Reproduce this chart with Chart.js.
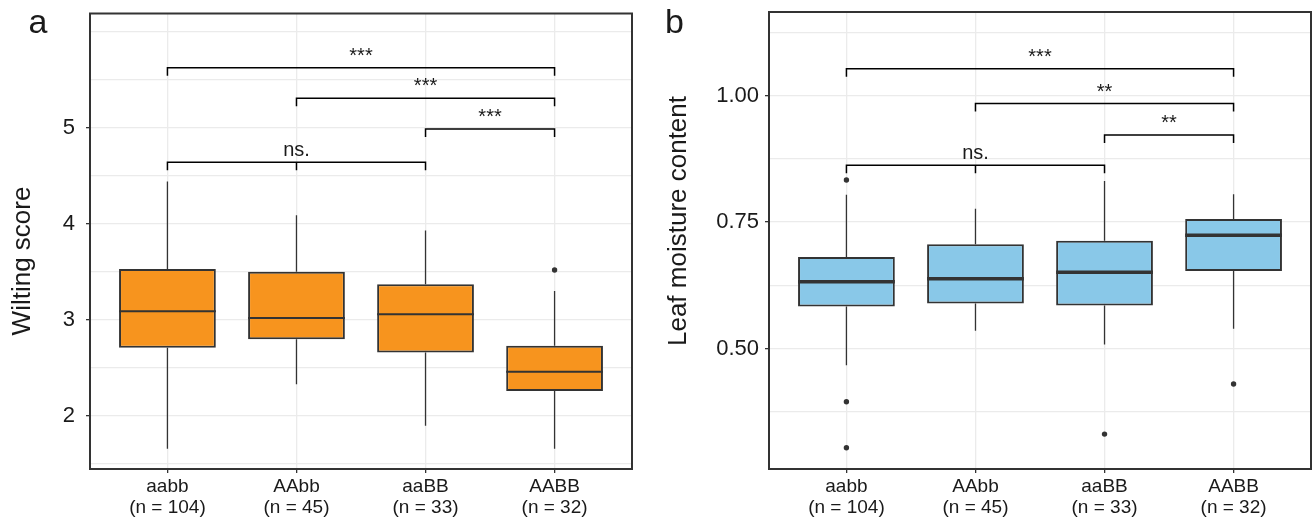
<!DOCTYPE html>
<html>
<head>
<meta charset="utf-8">
<title>Wilting score and leaf moisture content</title>
<script src="https://cdn.jsdelivr.net/npm/chart.js@4.4.0/dist/chart.umd.min.js"></script>
<style>
  body { margin: 0; background: #fff; }
  #wrap { position: relative; width: 1315px; height: 517px; }
  .panel { position: absolute; top: 0; height: 517px; }
</style>
</head>
<body>
<div id="wrap">
  <div class="panel" style="left:0;width:657px"><canvas id="wiltChart"></canvas></div>
  <div class="panel" style="left:657px;width:658px"><canvas id="moistChart"></canvas></div>
</div>
<script>
// categories
var genotypes = ['aabb', 'AAbb', 'aaBB', 'AABB'];
var sampleSizes = ['(n = 104)', '(n = 45)', '(n = 33)', '(n = 32)'];

// panel a: wilting score (box stats)
var wiltMin = [1.66, 2.33, 1.90, 1.66];
var wiltQ1 = [2.71, 2.80, 2.66, 2.26];
var wiltMed = [3.09, 3.02, 3.06, 2.46];
var wiltQ3 = [3.53, 3.50, 3.37, 2.73];
var wiltMax = [4.44, 4.09, 3.93, 3.30];
var wiltOutX = [3];
var wiltOutY = [3.52];
var wiltGrid = [1.5, 2, 2.5, 3, 3.5, 4, 4.5, 5, 5.5, 6];
var wiltLabels = [2, 3, 4, 5];
var wiltBrFrom = [0, 1, 2, 0];
var wiltBrTo = [3, 3, 3, 2];
var wiltBrY = [5.624, 5.306, 4.987, 4.64];
var wiltBrText = ['***', '***', '***', 'ns.'];

// panel b: leaf moisture content
var moistMin = [0.467, 0.535, 0.508, 0.539];
var moistQ1 = [0.583, 0.589, 0.585, 0.653];
var moistMed = [0.632, 0.638, 0.651, 0.724];
var moistQ3 = [0.681, 0.706, 0.713, 0.756];
var moistMax = [0.804, 0.776, 0.831, 0.805];
var moistOutX = [0, 0, 0, 2, 3];
var moistOutY = [0.833, 0.395, 0.304, 0.331, 0.430];
var moistGrid = [0.375, 0.5, 0.625, 0.75, 0.875, 1, 1.125];
var moistLabels = [0.5, 0.75, 1];
var moistBrFrom = [0, 1, 2, 0];
var moistBrTo = [3, 3, 3, 2];
var moistBrY = [1.053, 0.984, 0.922, 0.862];
var moistBrText = ['***', '**', '**', 'ns.'];

var FONT = '"Liberation Sans", Arial, Helvetica, sans-serif';
var INK = '#1a1a1a';
var LINE = '#333333';

// whiskers, medians, brackets, frame, axis title, panel letter
function boxPlugin(s) {
  return {
    id: 'boxExtras',
    beforeDatasetsDraw: function (chart) {
      var ctx = chart.ctx, x = chart.scales.x, y = chart.scales.y;
      ctx.save();
      ctx.strokeStyle = LINE;
      ctx.lineWidth = 1.3;
      for (var i = 0; i < s.min.length; i++) {
        var px = x.getPixelForValue(i);
        ctx.beginPath();
        ctx.moveTo(px, y.getPixelForValue(s.min[i]));
        ctx.lineTo(px, y.getPixelForValue(s.q1[i]));
        ctx.moveTo(px, y.getPixelForValue(s.q3[i]));
        ctx.lineTo(px, y.getPixelForValue(s.max[i]));
        ctx.stroke();
      }
      ctx.restore();
    },
    afterDatasetsDraw: function (chart) {
      var ctx = chart.ctx, x = chart.scales.x, y = chart.scales.y;
      var bars = chart.getDatasetMeta(0).data;
      ctx.save();
      // medians
      ctx.strokeStyle = LINE;
      ctx.lineWidth = s.medWidth;
      for (var i = 0; i < bars.length; i++) {
        var py = y.getPixelForValue(s.med[i]);
        ctx.beginPath();
        ctx.moveTo(bars[i].x - bars[i].width / 2, py);
        ctx.lineTo(bars[i].x + bars[i].width / 2, py);
        ctx.stroke();
      }
      // significance brackets
      ctx.strokeStyle = '#000';
      ctx.lineWidth = 1.5;
      ctx.fillStyle = INK;
      ctx.font = '20px ' + FONT;
      ctx.textAlign = 'center';
      ctx.textBaseline = 'alphabetic';
      for (var j = 0; j < s.brFrom.length; j++) {
        var x1 = x.getPixelForValue(s.brFrom[j]);
        var x2 = x.getPixelForValue(s.brTo[j]);
        var by = y.getPixelForValue(s.brY[j]);
        ctx.beginPath();
        ctx.moveTo(x1, by + 8);
        ctx.lineTo(x1, by);
        ctx.lineTo(x2, by);
        ctx.lineTo(x2, by + 8);
        for (var k = s.brFrom[j] + 1; k < s.brTo[j]; k++) {
          if (s.brText[j] === 'ns.') {
            var xm = x.getPixelForValue(k);
            ctx.moveTo(xm, by);
            ctx.lineTo(xm, by + 8);
          }
        }
        ctx.stroke();
        ctx.fillText(s.brText[j], (x1 + x2) / 2, by - 6);
      }
      // panel border
      var a = chart.chartArea;
      ctx.strokeStyle = LINE;
      ctx.lineWidth = 2;
      ctx.strokeRect(a.left, a.top, a.right - a.left, a.bottom - a.top);
      ctx.restore();
    },
    afterDraw: function (chart) {
      var ctx = chart.ctx;
      ctx.save();
      ctx.fillStyle = INK;
      ctx.font = '34px ' + FONT;
      ctx.textAlign = 'left';
      ctx.textBaseline = 'alphabetic';
      ctx.fillText(s.letter, s.letterX, 33);
      ctx.font = '26px ' + FONT;
      ctx.textAlign = 'center';
      ctx.textBaseline = 'middle';
      ctx.translate(s.titleX, s.titleY);
      ctx.rotate(-Math.PI / 2);
      ctx.fillText(s.title, 0, 0);
      ctx.restore();
    }
  };
}

function makeChart(id, s) {
  var boxes = genotypes.map(function (g, i) { return { x: i, y: [s.q1[i], s.q3[i]] }; });
  var outliers = s.outX.map(function (v, i) { return { x: v, y: s.outY[i] }; });
  return new Chart(document.getElementById(id), {
    type: 'bar',
    data: {
      datasets: [{
        data: boxes,
        backgroundColor: s.fill,
        borderColor: LINE,
        borderWidth: 2,
        borderSkipped: false,
        barPercentage: 0.75,
        categoryPercentage: 1
      }, {
        type: 'scatter',
        data: outliers,
        pointRadius: 2.7,
        pointBackgroundColor: LINE,
        pointBorderWidth: 0
      }]
    },
    plugins: [boxPlugin(s)],
    options: {
      responsive: true,
      maintainAspectRatio: false,
      animation: false,
      devicePixelRatio: 1,
      layout: { padding: { left: 0, right: s.padRight, top: s.padTop, bottom: 0 } },
      plugins: { legend: { display: false }, tooltip: { enabled: false } },
      scales: {
        x: {
          type: 'linear',
          min: -0.6,
          max: 3.6,
          offset: false,
          afterBuildTicks: function (scale) {
            scale.ticks = genotypes.map(function (g, i) { return { value: i }; });
          },
          afterFit: function (scale) {
            scale.height = 48;
            scale.paddingLeft = 0;
            scale.paddingRight = 0;
          },
          border: { display: false },
          grid: { offset: false, color: '#ebebeb', lineWidth: 1.3, tickLength: 4, tickColor: LINE, tickWidth: 1.3 },
          ticks: {
            autoSkip: false,
            maxRotation: 0,
            padding: 3,
            color: INK,
            font: { family: FONT, size: 19, lineHeight: 1.1 },
            callback: function (v) { return [genotypes[v], sampleSizes[v]]; }
          }
        },
        y: {
          min: s.yMin,
          max: s.yMax,
          afterBuildTicks: function (scale) {
            scale.ticks = s.grid.map(function (v) { return { value: v }; });
          },
          afterFit: function (scale) {
            scale.width = s.axisWidth;
            scale.paddingTop = 0;
            scale.paddingBottom = 0;
          },
          border: { display: false },
          grid: {
            color: '#ebebeb',
            lineWidth: 1.3,
            tickLength: 4,
            tickWidth: 1.3,
            tickColor: function (c) {
              return c.tick && s.labels.indexOf(c.tick.value) >= 0 ? LINE : 'rgba(0,0,0,0)';
            }
          },
          ticks: {
            autoSkip: false,
            padding: s.tickPad,
            color: INK,
            font: { family: FONT, size: 22 },
            callback: function (v) {
              return s.labels.indexOf(v) >= 0 ? s.fmt(v) : '';
            }
          }
        }
      }
    }
  });
}

makeChart('wiltChart', {
  min: wiltMin, q1: wiltQ1, med: wiltMed, q3: wiltQ3, max: wiltMax,
  outX: wiltOutX, outY: wiltOutY, grid: wiltGrid, labels: wiltLabels,
  brFrom: wiltBrFrom, brTo: wiltBrTo, brY: wiltBrY, brText: wiltBrText,
  yMin: 1.449, yMax: 6.188, fill: '#F7941E', medWidth: 2,
  axisWidth: 90, tickPad: 11, padRight: 25, padTop: 13.5,
  fmt: function (v) { return String(v); },
  letter: 'a', letterX: 28.5, title: 'Wilting score', titleX: 22.5, titleY: 261
});

makeChart('moistChart', {
  min: moistMin, q1: moistQ1, med: moistMed, q3: moistQ3, max: moistMax,
  outX: moistOutX, outY: moistOutY, grid: moistGrid, labels: moistLabels,
  brFrom: moistBrFrom, brTo: moistBrTo, brY: moistBrY, brText: moistBrText,
  yMin: 0.262, yMax: 1.165, fill: '#89C8E8', medWidth: 3.5,
  axisWidth: 112, tickPad: 6, padRight: 4, padTop: 12,
  fmt: function (v) { return v.toFixed(2); },
  letter: 'b', letterX: 8, title: 'Leaf moisture content', titleX: 21.5, titleY: 221
});
</script>
</body>
</html>
